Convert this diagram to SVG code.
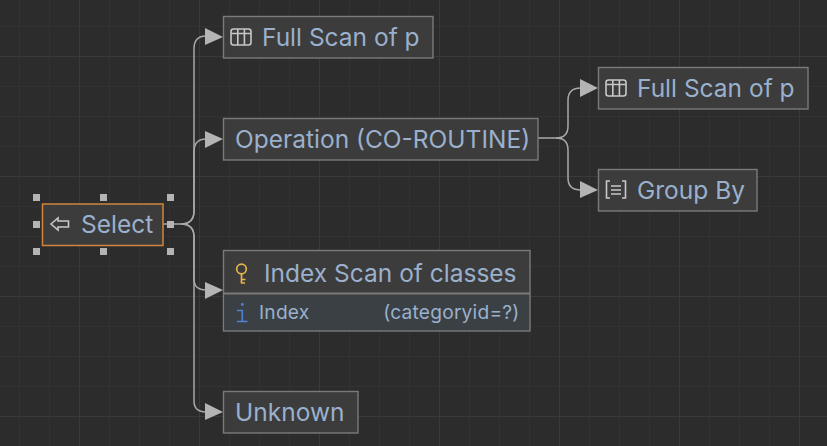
<svg xmlns="http://www.w3.org/2000/svg" width="827" height="446" viewBox="0 0 827 446">
<defs>
<style>
.bg{fill:#2c2c2c}
.minor{stroke:#323232;stroke-width:1;fill:none}
.major{stroke:#3a3a3a;stroke-width:1;fill:none}
.box{fill:#3c3c3c;stroke:#7a7a7a;stroke-width:1.4}
.sel{fill:#3c3c3c;stroke:#d0853a;stroke-width:1.5}
.t{font-family:Inter,"Noto Sans",sans-serif;font-size:24.5px;fill:#9ab0cc}
.s{font-family:Inter,"Noto Sans",sans-serif;font-size:19.2px;letter-spacing:.2px;fill:#9ab0cc}
.ic{fill:none;stroke:#c8c8c8;stroke-width:1.6}
.edge{fill:none;stroke:#a8a8a8;stroke-width:1.5}
.hd{fill:#b4b4b4}
</style>
</defs>
<rect class="bg" width="827" height="446"/>
<g id="grid">
<path class="minor" d="M19.500 0V446M49.500 0V446M109.500 0V446M139.500 0V446M169.500 0V446M229.500 0V446M259.500 0V446M289.500 0V446M349.500 0V446M379.500 0V446M409.500 0V446M469.500 0V446M499.500 0V446M529.500 0V446M589.500 0V446M619.500 0V446M649.500 0V446M709.500 0V446M739.500 0V446M769.500 0V446M0 26.500H827M0 86.500H827M0 116.500H827M0 146.500H827M0 206.500H827M0 236.500H827M0 266.500H827M0 326.500H827M0 356.500H827M0 386.500H827"/>
<path class="major" d="M79.500 0V446M199.500 0V446M319.500 0V446M439.500 0V446M559.500 0V446M679.500 0V446M799.500 0V446M0 56.500H827M0 176.500H827M0 296.500H827M0 416.500H827"/>
</g>
<g id="connectors">
<path class="edge" d="M163 224H181Q194 224 194 211V49Q194 36 206 36"/>
<path class="edge" d="M181 224Q194 224 194 211V152Q194 139 206 139"/>
<path class="edge" d="M181 224Q194 224 194 237V279Q194 290 206 290"/>
<path class="edge" d="M181 224Q194 224 194 237V401Q194 412 206 412"/>
<path class="edge" d="M538 138H556Q568 138 568 126V100Q568 88 581 88"/>
<path class="edge" d="M556 138Q568 138 568 150V178Q568 190 581 190"/>
<path class="hd" d="M205 28L223 37L205 45Z"/>
<path class="hd" d="M205 131L223 139L205 148Z"/>
<path class="hd" d="M205 282L223 290L205 299Z"/>
<path class="hd" d="M205 403L223 412L205 420Z"/>
<path class="hd" d="M580 79L598 88L580 97Z"/>
<path class="hd" d="M580 181L598 190L580 198Z"/>
</g>
<g id="select">
<rect class="sel" x="42.500" y="204" width="120.500" height="41.500"/>
<path class="ic" d="M51 224L58 218V221H68.500V227H58V230Z"/>
<text class="t" x="81" y="233">Select</text>
<path fill="#b4b4b4" d="M33 194h7v7h-7zM100 194h7v7h-7zM167 194h7v7h-7zM33 221h7v7h-7zM167 221h7v7h-7zM33 248h7v7h-7zM100 248h7v7h-7zM167 248h7v7h-7z"/>
</g>
<g id="full-scan-1">
<rect class="box" x="223.500" y="16.500" width="209.500" height="41.500"/>
<rect class="ic" x="231" y="29" width="20" height="16" rx="2.500"/>
<path class="ic" d="M231 33.500H251M237.800 29V45M244.400 29V45"/>
<text class="t" x="262" y="46">Full Scan of p</text>
</g>
<g id="operation">
<rect class="box" x="223.500" y="118.500" width="314.500" height="41.500"/>
<text class="t" x="235" y="148">Operation (CO-ROUTINE)</text>
</g>
<g id="index-scan">
<rect class="box" x="223.500" y="250.500" width="306.500" height="80.500"/>
<rect x="224.500" y="295" width="304.500" height="35" fill="#3b4045"/>
<path d="M223.500 293.500H530" stroke="#7a7a7a" stroke-width="2" fill="none"/>
<circle cx="241.500" cy="269" r="4.800" fill="none" stroke="#e8b44c" stroke-width="1.700"/>
<path d="M241.500 274V283.500M241.500 279.500H245.500M241.500 283H245" fill="none" stroke="#e8b44c" stroke-width="1.700"/>
<text class="t" x="264" y="282">Index Scan of classes</text>
<circle cx="242.300" cy="304.500" r="1.400" fill="#4f82d6"/>
<path d="M237 310.500H242.300V321.500M237 321.500H247.500" fill="none" stroke="#4f82d6" stroke-width="1.600"/>
<text class="s" x="259" y="319">Index</text>
<text class="s" x="519.500" y="319" text-anchor="end">(categoryid=?)</text>
</g>
<g id="unknown">
<rect class="box" x="223.500" y="391.500" width="134.500" height="41.500"/>
<text class="t" x="235" y="421">Unknown</text>
</g>
<g id="full-scan-2">
<rect class="box" x="598.500" y="67.500" width="209.500" height="41.500"/>
<rect class="ic" x="606" y="80" width="20" height="16" rx="2.500"/>
<path class="ic" d="M606 84.500H626M612.800 80V96M619.400 80V96"/>
<text class="t" x="637" y="97">Full Scan of p</text>
</g>
<g id="group-by">
<rect class="box" x="598.500" y="169.500" width="158.500" height="41.500"/>
<path class="ic" d="M610 181H606.500V198H610M622 181H625.500V198H622M611 186H621M611 190H621M611 194H621"/>
<text class="t" x="637" y="199">Group By</text>
</g>
</svg>
